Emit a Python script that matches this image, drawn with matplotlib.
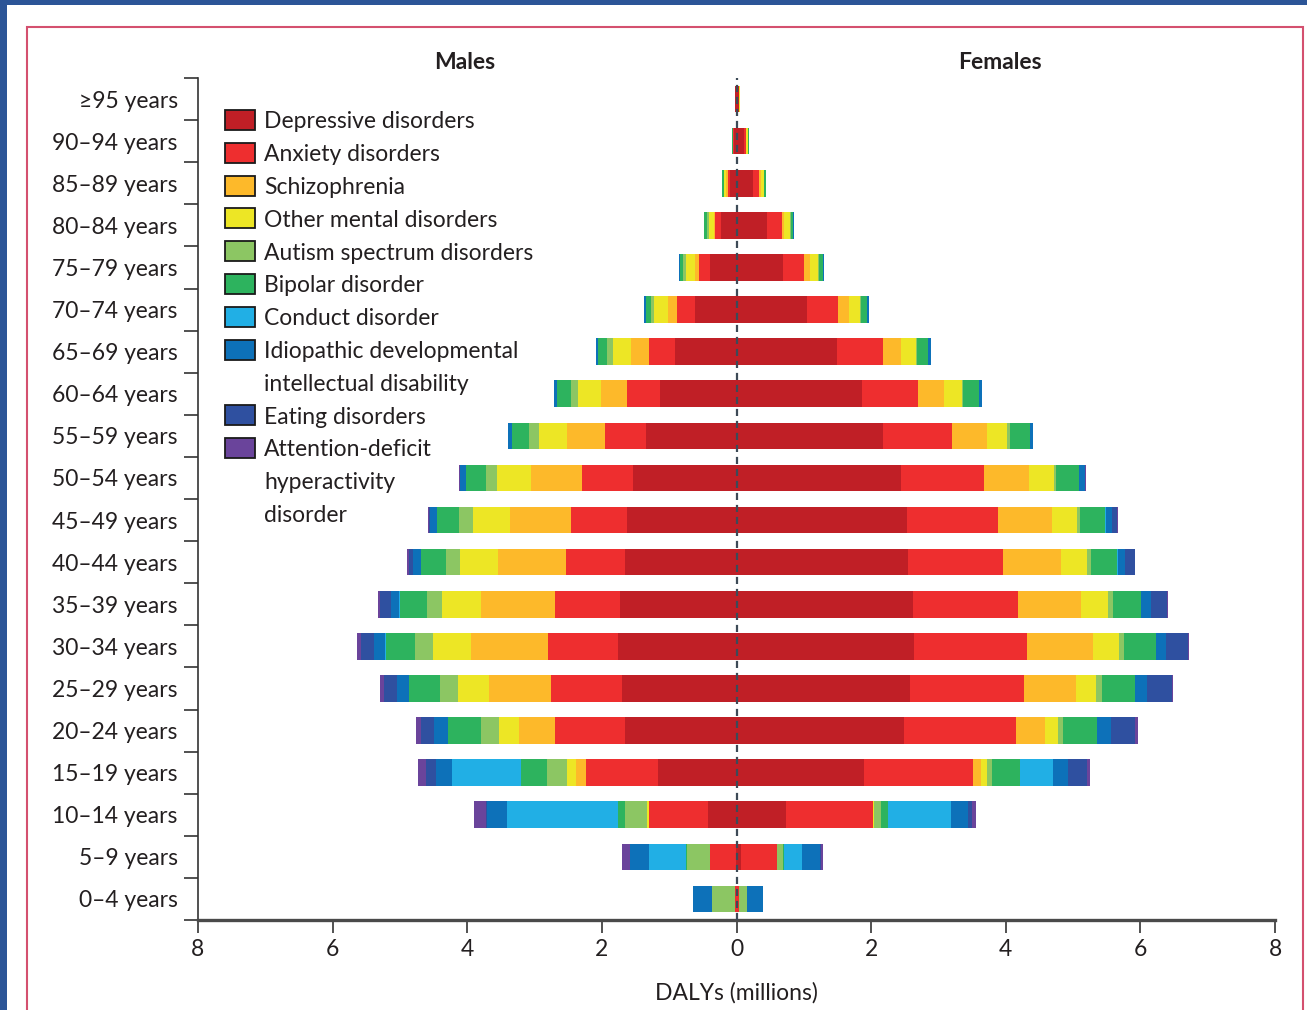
import matplotlib
matplotlib.use("Agg")
import matplotlib.pyplot as plt
import matplotlib.transforms as mtransforms
from matplotlib.patches import Rectangle
from matplotlib.ticker import FixedLocator, FixedFormatter, NullFormatter
import numpy as np

W_PX, H_PX, DPI = 1307, 1010, 100

plt.rcParams['font.family'] = ['Lato', 'DejaVu Sans']
TEXT = '#231f20'
FS = 16.5

age_groups = ["0–4 years", "5–9 years", "10–14 years", "15–19 years", "20–24 years",
              "25–29 years", "30–34 years", "35–39 years", "40–44 years", "45–49 years",
              "50–54 years", "55–59 years", "60–64 years", "65–69 years", "70–74 years",
              "75–79 years", "80–84 years", "85–89 years", "90–94 years", "≥95 years"]

disorders = ["Depressive disorders", "Anxiety disorders", "Schizophrenia",
             "Other mental disorders", "Autism spectrum disorders", "Bipolar disorder",
             "Conduct disorder", "Idiopathic developmental\nintellectual disability",
             "Eating disorders", "Attention-deficit\nhyperactivity\ndisorder"]
colors = ["#c01f26", "#ee2e2f", "#fdb92a", "#ede625", "#8cc663", "#2db35e",
          "#21afe5", "#0d71b9", "#2f50a0", "#6a449b"]

# DALYs (millions) by age group, youngest first
male_depressive = [0.0, 0.01, 0.42, 1.17, 1.66, 1.70, 1.76, 1.73, 1.65, 1.62,
                   1.54, 1.34, 1.13, 0.91, 0.61, 0.39, 0.23, 0.094, 0.035, 0.015]
male_anxiety = [0.02, 0.39, 0.88, 1.06, 1.04, 1.05, 1.04, 0.96, 0.89, 0.84,
                0.76, 0.62, 0.50, 0.39, 0.27, 0.16, 0.085, 0.035, 0.01, 0.003]
male_schizophrenia = [0.0, 0.0, 0.005, 0.16, 0.53, 0.93, 1.14, 1.10, 1.00, 0.91,
                      0.76, 0.56, 0.39, 0.26, 0.14, 0.06, 0.015, 0.02, 0.005, 0.0]
male_other = [0.0, 0.0, 0.03, 0.13, 0.30, 0.45, 0.57, 0.59, 0.57, 0.55,
              0.50, 0.42, 0.34, 0.27, 0.20, 0.14, 0.085, 0.035, 0.008, 0.002]
male_autism = [0.35, 0.34, 0.32, 0.29, 0.27, 0.27, 0.26, 0.22, 0.20, 0.20,
               0.16, 0.14, 0.10, 0.09, 0.05, 0.04, 0.03, 0.005, 0.0, 0.0]
male_bipolar = [0.0, 0.005, 0.11, 0.39, 0.48, 0.46, 0.44, 0.40, 0.37, 0.33,
                0.30, 0.25, 0.20, 0.14, 0.08, 0.05, 0.035, 0.02, 0.006, 0.001]
male_conduct = [0.0, 0.55, 1.64, 1.03, 0.01, 0.01, 0.01, 0.01, 0.01, 0.005,
                0.005, 0.0, 0.0, 0.0, 0.0, 0.0, 0.0, 0.0, 0.0, 0.0]
male_idiopathic = [0.28, 0.28, 0.30, 0.24, 0.21, 0.18, 0.16, 0.13, 0.12, 0.10,
                   0.08, 0.06, 0.045, 0.03, 0.03, 0.015, 0.01, 0.0, 0.0, 0.0]
male_eating = [0.0, 0.01, 0.02, 0.14, 0.18, 0.19, 0.20, 0.15, 0.05, 0.02,
               0.01, 0.005, 0.0, 0.0, 0.0, 0.0, 0.0, 0.0, 0.0, 0.0]
male_adhd = [0.0, 0.12, 0.17, 0.12, 0.08, 0.06, 0.06, 0.04, 0.03, 0.015,
             0.01, 0.005, 0.0, 0.0, 0.0, 0.0, 0.0, 0.0, 0.0, 0.0]

female_depressive = [0.005, 0.06, 0.73, 1.90, 2.49, 2.575, 2.63, 2.615, 2.545, 2.53,
                     2.45, 2.18, 1.86, 1.50, 1.04, 0.69, 0.46, 0.24, 0.11, 0.03]
female_anxiety = [0.035, 0.535, 1.30, 1.61, 1.66, 1.69, 1.69, 1.57, 1.42, 1.35,
                  1.22, 1.025, 0.83, 0.68, 0.47, 0.32, 0.21, 0.10, 0.025, 0.01]
female_schizophrenia = [0.0, 0.0, 0.005, 0.12, 0.44, 0.78, 0.98, 0.94, 0.85, 0.80,
                        0.68, 0.51, 0.39, 0.27, 0.16, 0.085, 0.04, 0.025, 0.01, 0.0]
female_other = [0.0, 0.0, 0.01, 0.085, 0.18, 0.30, 0.38, 0.40, 0.39, 0.38,
                0.36, 0.31, 0.27, 0.21, 0.16, 0.115, 0.08, 0.04, 0.02, 0.005]
female_autism = [0.12, 0.10, 0.10, 0.085, 0.08, 0.08, 0.075, 0.064, 0.055, 0.05,
                 0.04, 0.035, 0.02, 0.02, 0.015, 0.015, 0.025, 0.005, 0.0, 0.0]
female_bipolar = [0.0, 0.005, 0.11, 0.41, 0.505, 0.495, 0.47, 0.42, 0.40, 0.37,
                  0.34, 0.30, 0.23, 0.17, 0.10, 0.06, 0.025, 0.03, 0.015, 0.0]
female_conduct = [0.0, 0.28, 0.93, 0.49, 0.005, 0.005, 0.005, 0.005, 0.005, 0.005,
                  0.005, 0.0, 0.0, 0.0, 0.0, 0.0, 0.0, 0.0, 0.0, 0.0]
female_idiopathic = [0.24, 0.26, 0.25, 0.23, 0.21, 0.17, 0.15, 0.14, 0.11, 0.09,
                     0.08, 0.05, 0.04, 0.04, 0.03, 0.01, 0.01, 0.0, 0.0, 0.0]
female_eating = [0.0, 0.02, 0.07, 0.27, 0.35, 0.37, 0.33, 0.24, 0.14, 0.085,
                 0.005, 0.0, 0.0, 0.0, 0.0, 0.0, 0.0, 0.0, 0.0, 0.0]
female_adhd = [0.0, 0.03, 0.06, 0.05, 0.04, 0.025, 0.015, 0.015, 0.01, 0.005,
               0.005, 0.0, 0.0, 0.0, 0.0, 0.0, 0.0, 0.0, 0.0, 0.0]

x_ticks = [-8, -6, -4, -2, 0, 2, 4, 6, 8]
x_tick_labels = ["8", "6", "4", "2", "0", "2", "4", "6", "8"]

male_series = [male_depressive, male_anxiety, male_schizophrenia, male_other,
               male_autism, male_bipolar, male_conduct, male_idiopathic,
               male_eating, male_adhd]
female_series = [female_depressive, female_anxiety, female_schizophrenia, female_other,
                 female_autism, female_bipolar, female_conduct, female_idiopathic,
                 female_eating, female_adhd]


def fx(px):
    return px / W_PX


def fy(py):
    return 1 - py / H_PX


fig = plt.figure(figsize=(W_PX / DPI, H_PX / DPI), dpi=DPI)
fig.patch.set_facecolor("#2c5597")
# white page with the pink panel frame
fig.add_artist(Rectangle((fx(7), 0), 1, fy(5), transform=fig.transFigure,
                         facecolor="white", edgecolor="none", zorder=-20))
fig.add_artist(Rectangle((fx(27), -0.1), fx(1303) - fx(27), fy(27) + 0.1,
                         transform=fig.transFigure, facecolor="none",
                         edgecolor="#d4506f", lw=1.5, zorder=-19))

ax = fig.add_axes([fx(198), fy(920), fx(1275) - fx(198), fy(78) - fy(920)])
ax.set_facecolor("none")

y = np.arange(len(age_groups))
bar_h = 0.63

male_left = np.zeros(len(age_groups))
female_left = np.zeros(len(age_groups))
for vals_m, vals_f, col in zip(male_series, female_series, colors):
    vm = np.array(vals_m)
    vf = np.array(vals_f)
    ax.barh(y, -vm, left=-male_left, height=bar_h, color=col, linewidth=0, zorder=2)
    ax.barh(y, vf, left=female_left, height=bar_h, color=col, linewidth=0, zorder=2)
    male_left += vm
    female_left += vf

ax.axvline(0, color="#3d4a57", lw=1.6, ls=(0, (3.2, 2.2)), zorder=5)

ax.set_xlim(-8, 8)
ax.set_ylim(-0.5, len(age_groups) - 0.5)

# spines
for side in ("top", "right"):
    ax.spines[side].set_visible(False)
ax.spines["left"].set_color("#333333")
ax.spines["left"].set_linewidth(1.2)
ax.spines["bottom"].set_color("#4a4a4a")
ax.spines["bottom"].set_linewidth(2.4)

# y axis: labels at row centres, tick marks between rows
ax.yaxis.set_major_locator(FixedLocator(y))
ax.yaxis.set_major_formatter(FixedFormatter(age_groups))
ax.yaxis.set_minor_locator(FixedLocator(np.arange(-0.5, len(age_groups), 1.0)))
ax.yaxis.set_minor_formatter(NullFormatter())
ax.tick_params(axis="y", which="major", length=0, pad=14.5, labelsize=FS, labelcolor=TEXT)
ax.tick_params(axis="y", which="minor", length=10, width=1.2, color="#333333", direction="out")

ax.xaxis.set_major_locator(FixedLocator(x_ticks))
ax.xaxis.set_major_formatter(FixedFormatter(x_tick_labels))
ax.tick_params(axis="x", which="major", length=9, width=1.2, color="#333333",
               pad=5, labelsize=FS, labelcolor=TEXT)

ax.set_xlabel("DALYs (millions)", fontsize=FS, color=TEXT, labelpad=15.5)

# panel headings
head_tr = mtransforms.blended_transform_factory(ax.transData, ax.transAxes)
ax.text(-4.04, 1.0180, "Males", transform=head_tr, ha="center", va="center",
        fontsize=FS, fontweight="bold", color=TEXT)
ax.text(3.92, 1.0180, "Females", transform=head_tr, ha="center", va="center",
        fontsize=FS, fontweight="bold", color=TEXT)

# key
line_px = 32.8
row = 0
for name, col in zip(disorders, colors):
    cy = 120 + row * line_px
    fig.add_artist(Rectangle((fx(225), fy(cy + 10)), fx(255) - fx(225), fy(cy - 10) - fy(cy + 10),
                             transform=fig.transFigure, facecolor=col,
                             edgecolor="#1a1a1a", lw=1.3, zorder=6))
    for k, line in enumerate(name.split("\n")):
        fig.text(fx(264), fy(cy + 8.5 + k * line_px), line, ha="left", va="baseline",
                 fontsize=FS, color=TEXT)
    row += len(name.split("\n"))

fig.savefig("out.png", dpi=DPI, facecolor=fig.get_facecolor())
